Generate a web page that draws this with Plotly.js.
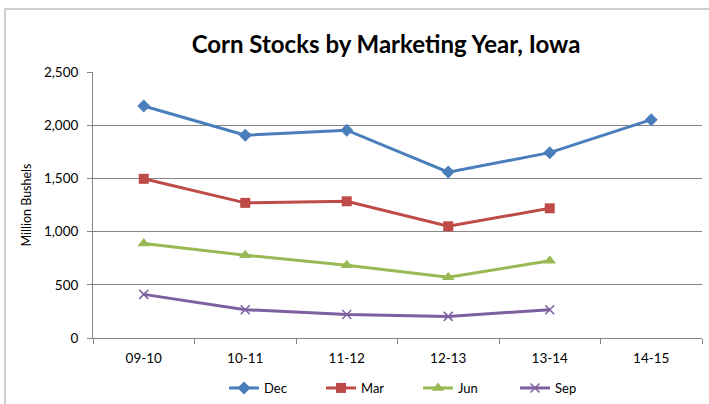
<!DOCTYPE html>
<html>
<head>
<meta charset="utf-8">
<script src="https://cdn.plot.ly/plotly-3.0.1.min.js"></script>
<style>html,body{margin:0;padding:0;background:#fff;} #chart{width:709px;height:404px;}</style>
</head>
<body>
<div id="chart"></div>
<script>
const years = ["09-10", "10-11", "11-12", "12-13", "13-14", "14-15"];
const dec = [2180, 1906, 1953, 1559, 1742, 2052];
const mar = [1496, 1270, 1285, 1050, 1219, null];
const jun = [888, 778, 684, 570, 727, null];
const sep = [410, 266, 221, 203, 266, null];
const yTicks = [0, 500, 1000, 1500, 2000, 2500];
const yTickText = ["0", "500", "1,000", "1,500", "2,000", "2,500"];

const font = "Lato, 'Open Sans', sans-serif";
function tr(name, y, color, symbol, size) {
  return {
    x: years, y: y, name: name, type: "scatter", mode: "lines+markers",
    line: {color: color, width: 3},
    marker: {symbol: symbol, size: size, color: color, line: {color: color, width: symbol === "x-thin" ? 1.5 : 0}},
    connectgaps: false
  };
}
const data = [
  tr("Dec", dec, "#4A7EBB", "diamond", 10),
  tr("Mar", mar, "#BE4B48", "square", 10),
  tr("Jun", jun, "#98B954", "triangle-up", 11),
  tr("Sep", sep, "#7D60A0", "x-thin", 9)
];
const L = 93, R = 702, T = 72, B = 338, W = 709, H = 404;
const pw = R - L, ph = B - T;
const layout = {
  width: W, height: H,
  margin: {l: L, r: W - R, t: T, b: H - B},
  paper_bgcolor: "#fff", plot_bgcolor: "#fff",
  font: {family: font, size: 13, color: "#000"},
  title: {text: "<b>Corn Stocks by Marketing Year, Iowa</b>", font: {family: font, size: 24, color: "#000"},
          x: 386 / W, xref: "container", xanchor: "center", y: 1 - 45 / H, yref: "container", yanchor: "middle"},
  xaxis: {
    type: "category", range: [-0.5, 5.5], showgrid: false, zeroline: false,
    showline: true, linecolor: "#868686", linewidth: 1,
    ticks: "outside", ticklen: 5, tickcolor: "#868686", tickson: "boundaries",
    ticklabelstandoff: 8,
    tickfont: {family: font, size: 13.5, color: "#000"}
  },
  yaxis: {
    range: [0, 2500], tickvals: yTicks, ticktext: yTickText,
    showgrid: true, gridcolor: "#868686", gridwidth: 1, zeroline: false,
    showline: true, linecolor: "#868686", linewidth: 1,
    ticks: "outside", ticklen: 5, tickcolor: "#868686",
    ticklabelstandoff: 6,
    tickfont: {family: font, size: 13.5, color: "#000"},
    title: {text: "Million Bushels", font: {family: font, size: 12.5, color: "#000"}, standoff: 9}
  },
  showlegend: true,
  legend: {orientation: "h", x: 418 / W, xref: "container", xanchor: "center", y: 1 - 388 / H, yref: "container", yanchor: "middle",
           font: {family: font, size: 13, color: "#000"}, entrywidth: 52, itemwidth: 30, tracegroupgap: 0},
  shapes: [{type: "rect", xref: "paper", yref: "paper",
            x0: (5 - L) / pw, x1: (715 - L) / pw, y0: (B - 410) / ph, y1: (B - 9) / ph,
            line: {color: "#bfbfbf", width: 1.5}, fillcolor: "rgba(0,0,0,0)", layer: "below"}]
};
Plotly.newPlot("chart", data, layout, {displayModeBar: false, staticPlot: true});
</script>
</body>
</html>
